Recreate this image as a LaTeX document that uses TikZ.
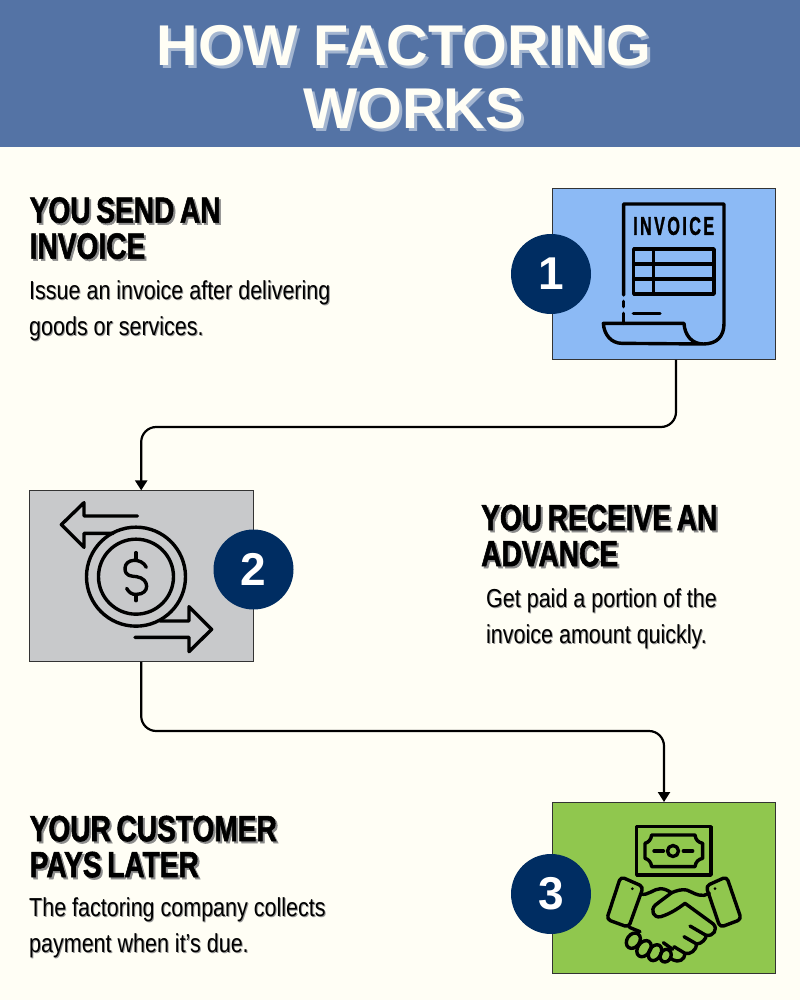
\documentclass[tikz,border=0pt]{standalone}
\usepackage{graphicx}
\usepackage{fontspec}
\setmainfont{Liberation Sans}
\newfontfamily\headfont[FakeStretch=0.77,FakeBold=1.5,WordSpace=0.72]{Liberation Sans}
\newfontfamily\iconfont[FakeStretch=0.8,FakeBold=1.2]{Liberation Sans}
\newfontfamily\bodyfont[FakeStretch=0.827]{Liberation Sans}
\usetikzlibrary{arrows.meta,calc}
\definecolor{pagebg}{HTML}{FFFEF5}
\definecolor{bandblue}{HTML}{5473A5}
\definecolor{titleshade}{HTML}{A3B5D0}
\definecolor{navy}{HTML}{002D62}
\definecolor{boxblue}{HTML}{8CBAF5}
\definecolor{boxgray}{HTML}{C8C9CB}
\definecolor{boxgreen}{HTML}{90C74E}
\newcommand{\shtext}[3]{\makebox[0pt][l]{\raisebox{-#1}{\hspace{#1}\textcolor{#2}{#3}}}#3}
\newcommand{\hd}[1]{\shtext{2pt}{black!45}{#1}}
\newcommand{\bd}[1]{\shtext{1pt}{black!40}{#1}}
\newcommand{\tl}[1]{\shtext{3pt}{titleshade}{#1}}
\tikzset{
  x=1pt,y=-1pt,
  iconbox/.style={draw=black!80,line width=0.8pt,inner sep=0pt,anchor=north west},
  badge/.style={circle,fill=navy,minimum size=80pt,inner sep=0pt,text=white,font=\fontsize{46}{46}\selectfont\bfseries},
  headtxt/.style={anchor=north west,inner sep=0pt,align=left,font=\headfont\bfseries\fontsize{36.5}{36}\selectfont},
  bodytxt/.style={anchor=north west,inner sep=0pt,align=left,font=\bodyfont\fontsize{26}{36}\selectfont},
  conn/.style={draw=black,line width=2.2pt,rounded corners=15pt},
  connarrow/.style={conn,-{Triangle[length=10pt,width=12pt]}},
  iconline/.style={draw=black,line width=3.4pt,line cap=round,line join=round},
  zoomed/.style={x=0.33333pt,y=-0.33333pt}
}
\begin{document}
\begin{tikzpicture}
\useasboundingbox (0,0) rectangle (800,1000);
\fill[pagebg] (0,0) rectangle (800,1000);
\fill[bandblue] (0,0) rectangle (800,147);
\node[text=pagebg,align=center,inner sep=0pt,font=\fontsize{57.5}{63}\selectfont\bfseries] (title) at (404,78.5)
  {\tl{HOW FACTORING}\\\hspace*{19pt}\tl{WORKS}};

% boxes
\node[iconbox,fill=boxblue,minimum width=223.6pt,minimum height=170.8pt] (box1) at (551.8,188.3) {};
\node[iconbox,fill=boxgray,minimum width=223.6pt,minimum height=170.6pt] (box2) at (29,490.4) {};
\node[iconbox,fill=boxgreen,minimum width=223.6pt,minimum height=170.6pt] (box3) at (551.8,802) {};

% connectors
\coordinate (via1) at (400,427);
\coordinate (via2) at (400,731);
\draw[connarrow] ([xshift=12pt]box1.south) -- ([xshift=12pt]box1.south |- via1) -- (via1 -| box2.north) -- (box2.north);
\draw[connarrow] (box2.south) -- (box2.south |- via2) -- (via2 -| box3.north) -- (box3.north);

% badges
\node[badge] (badge1) at (551,274) {\raisebox{-1pt}{1}};
\node[badge] (badge2) at (253.5,569.5) {\raisebox{-1pt}{2}};
\node[badge] (badge3) at (551,894) {\raisebox{-1pt}{3}};

% texts
\node[headtxt] (head1) at (29.5,197) {\hd{YOU SEND AN}\\\hd{INVOICE}};
\node[bodytxt] (body1) at (29,280.5) {\bd{Issue an invoice after delivering}\\\bd{goods or services.}};
\node[headtxt] (head2) at (481,504.5) {\hd{YOU RECEIVE AN}\\\hd{ADVANCE}};
\node[bodytxt] (body2) at (486,588.5) {\bd{Get paid a portion of the}\\\bd{invoice amount quickly.}};
\node[headtxt] (head3) at (29.5,815.5) {\hd{YOUR CUSTOMER}\\\hd{PAYS LATER}};
\node[bodytxt] (body3) at (29,897.5) {\bd{The factoring company collects}\\\bd{payment when it’s due.}};

% invoice icon
\begin{scope}[shift={(540pt,-180pt)},zoomed,iconline]
\draw (251,345) -- (251,72) -- (552,72) -- (552,430) .. controls (552,470) and (530,492) .. (490,492) -- (245,490) .. controls (215,490) and (192,465) .. (190,430) -- (432,430) .. controls (434,465) and (455,492) .. (490,492);
\draw (251,364) -- (251,380);
\draw (251,400) -- (251,430);
\draw (280,401) -- (360,401);
\draw (281,207) rectangle (522,342);
\draw (281,252) -- (522,252);
\draw (281,297) -- (522,297);
\draw (341,207) -- (341,342);
\node[inner sep=0pt] (invoiceword) at (401,138) {\resizebox{81pt}{18pt}{\iconfont\bfseries\addfontfeature{LetterSpace=12}INVOICE}};
\end{scope}

% exchange icon
\begin{scope}[shift={(20pt,-480pt)},zoomed,iconline]
\draw (352,108) -- (192,108) -- (192,68) -- (124,134) -- (192,202) -- (192,160) -- (280,160);
\draw (345,472) -- (507,472) -- (507,515) -- (575,448) -- (507,380) -- (507,423) -- (420,423);
\draw (348,290) circle [radius=49.5pt];
\draw (348,290) circle [radius=37.5pt];
\draw (348,218) -- (348,235);
\draw (348,345) -- (348,362);
\draw (379,262) .. controls (365,232) and (315,235) .. (315,265) .. controls (315,290) and (335,288) .. (350,290) .. controls (390,296) and (390,343) .. (350,343) .. controls (335,345) and (325,335) .. (320,325);
\end{scope}

% handshake icon
\begin{scope}[shift={(500pt,-790pt)},zoomed,iconline]
\draw (410,110) rectangle (633,255);
\draw (455,135) -- (585,135) .. controls (587,150) and (595,157) .. (608,160) -- (608,205) .. controls (595,208) and (587,215) .. (585,230) -- (455,230) .. controls (453,215) and (445,208) .. (435,205) -- (435,160) .. controls (445,157) and (453,150) .. (455,135) -- cycle;
\draw (519,183) circle [radius=5.5pt];
\draw (462,183) -- (490,183);
\draw (550,183) -- (578,183);
% cuffs
\draw[rounded corners=4pt] (362,260) -- (430,290) -- (386,412) -- (320,388) -- cycle;
\draw[rounded corners=4pt] (680,260) -- (618,288) -- (660,412) -- (724,388) -- cycle;
\fill (397,296) circle [radius=1.5pt];
\fill (645,296) circle [radius=1.5pt];
% hands
\draw (422,312) .. controls (445,318) and (460,296) .. (482,296) .. controls (495,296) and (505,303) .. (515,308) .. controls (530,302) and (545,297) .. (560,300) .. controls (575,305) and (590,318) .. (612,316) -- (628,310);
\draw (515,308) -- (466,345) .. controls (450,360) and (460,385) .. (482,380) .. controls (510,372) and (535,355) .. (555,340) -- (640,402) .. controls (655,418) and (640,440) .. (618,436);
\draw (570,408) -- (618,436) .. controls (620,445) and (605,462) .. (590,462) -- (552,440);
\draw (590,462) .. controls (590,480) and (570,495) .. (555,490) -- (522,470);
\draw (555,490) .. controls (555,510) and (535,518) .. (520,510) -- (512,505);
\draw (388,412) -- (420,425);
\draw (490,458) -- (518,478);
\draw[rotate around={-35:(400,452)}] (400,452) ellipse [x radius=6.3pt,y radius=8.3pt];
\draw[rotate around={-35:(432,476)}] (432,476) ellipse [x radius=6.3pt,y radius=8.8pt];
\draw[rotate around={-30:(465,488)}] (465,488) ellipse [x radius=6pt,y radius=8.5pt];
\draw[rotate around={-25:(497,497)}] (497,497) ellipse [x radius=5.3pt,y radius=6.5pt];
\end{scope}
\end{tikzpicture}
\end{document}
